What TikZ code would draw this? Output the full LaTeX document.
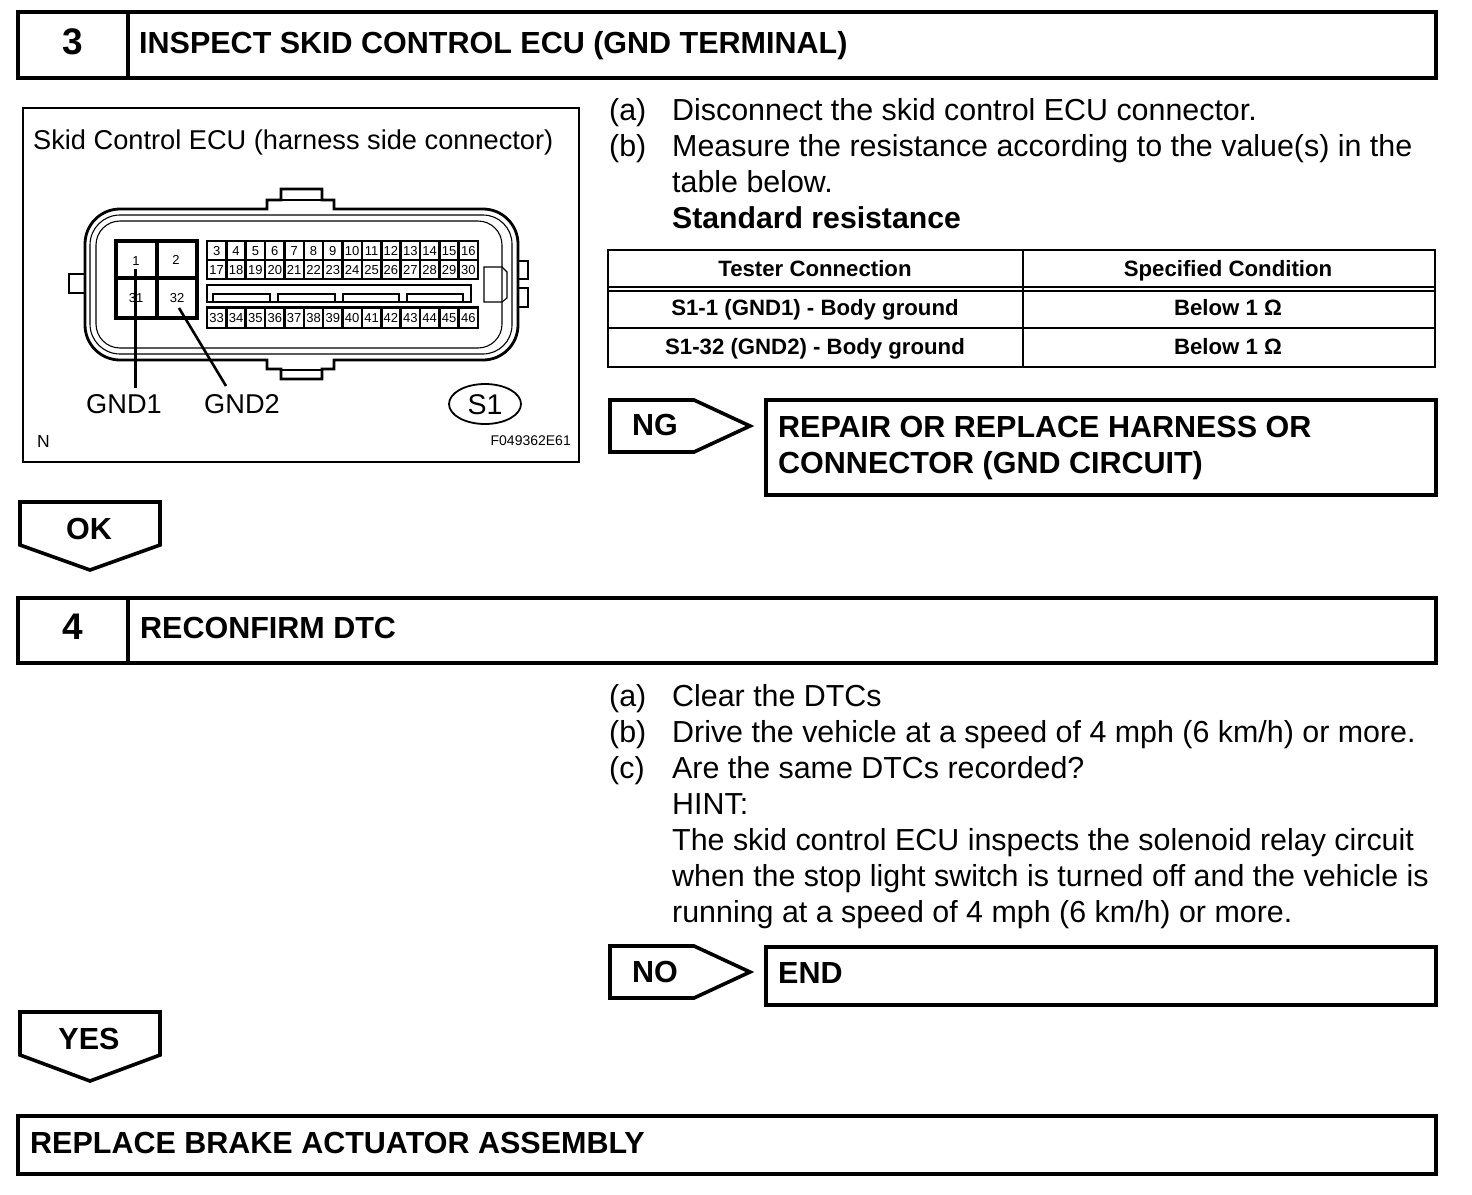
\documentclass[tikz,border=0pt]{standalone}
\usepackage{fontspec}
\usetikzlibrary{shapes.geometric}
\setmainfont{Liberation Sans}
\tikzset{
 heavy/.style={draw=black,line width=3.6pt,line join=miter},
 frame/.style={draw=black,line width=2.6pt},
 thinl/.style={draw=black,line width=1.1pt},
 mid/.style={draw=black,line width=2pt},
 cellg/.style={draw=black,line width=2.6pt},
 body/.style={anchor=base west,inner sep=0pt,font=\fontsize{30.4}{33}\selectfont},
 title/.style={anchor=base west,inner sep=0pt,font=\fontsize{30.5}{33}\selectfont\bfseries},
 num/.style={anchor=base,inner sep=0pt,font=\fontsize{37}{40}\selectfont\bfseries},
 tabt/.style={anchor=base,inner sep=0pt,font=\fontsize{22.2}{24}\selectfont\bfseries},
 lab/.style={anchor=base west,inner sep=0pt,font=\fontsize{27.2}{30}\selectfont},
 pin/.style={anchor=center,inner sep=0pt,text height=9.4pt,text depth=0pt,font=\fontsize{13}{14}\selectfont},
}
\begin{document}
\begin{tikzpicture}[x=1pt,y=-1pt]
\useasboundingbox (0,0) rectangle (1472,1194);
% step 3 header
\draw[heavy] (18,12) rectangle (1436,78) (128,12) -- (128,78);
\node[num] (n3) at (73,54) {3};
\node[title] (t3) at (139,53) {INSPECT SKID CONTROL ECU (GND TERMINAL)};
% figure frame
\draw[frame] (23,108) rectangle (579,462);
\node[lab] (figt) at (33,149) {Skid Control ECU (harness side connector)};
% housing
\draw[line width=2.8pt] (120,209) -- (267,209) -- (267,200) -- (281,200) -- (281,189) -- (322,189) -- (322,200) -- (334,200) -- (334,209) -- (483,209)
  arc[start angle=-90,end angle=0,radius=35] -- (518,325) arc[start angle=0,end angle=90,radius=35]
  -- (334,360) -- (334,369) -- (322,369) -- (322,379) -- (281,379) -- (281,369) -- (267,369) -- (267,360) -- (120,360)
  arc[start angle=90,end angle=180,radius=35] -- (85,244) arc[start angle=180,end angle=270,radius=35] -- cycle;
\draw[thinl] (120,215) -- (483,215) arc[start angle=-90,end angle=0,radius=29] -- (512,325) arc[start angle=0,end angle=90,radius=29] -- (120,354) arc[start angle=90,end angle=180,radius=30] -- (90,245) arc[start angle=180,end angle=270,radius=30] -- cycle;
\draw[thinl] (120,221) -- (478,221) arc[start angle=-90,end angle=0,radius=24] -- (502,324) arc[start angle=0,end angle=90,radius=24] -- (120,348) arc[start angle=90,end angle=180,radius=24] -- (96,245) arc[start angle=180,end angle=270,radius=24] -- cycle;
\draw[thinl] (281,200) -- (322,200) (281,370) -- (322,370);
% side tabs
\draw[cellg] (85,274) -- (69,274) -- (69,293) -- (85,293);
\draw[cellg] (518,261) -- (528,261) -- (528,279) -- (518,279);
\draw[cellg] (518,288) -- (528,288) -- (528,307) -- (518,307);
\draw[thinl] (484,267) -- (502,267) -- (507,272) -- (507,298) -- (502,302) -- (484,302) -- cycle;
% big cavity block
\draw[line width=3.4pt] (116,241) rectangle (197,318) (116,278) -- (197,278) (157,241) -- (157,318);
\node[pin] (p1) at (136,261) {1};
\node[pin] (p2) at (176,260) {2};
\node[pin] (p31) at (136,298) {31};
\node[pin] (p32) at (177,298) {32};
% pin rows
\draw[cellg] (207,241) rectangle (478,279) (207,260) -- (478,260) (207,307.5) rectangle (478,328);
\foreach \i in {1,...,13} {
  \draw[cellg] ({207+\i*19.36},241) -- ({207+\i*19.36},279);
  \draw[cellg] ({207+\i*19.36},307.5) -- ({207+\i*19.36},328);
}
\foreach \i [evaluate=\i as \a using int(\i+3), evaluate=\i as \b using int(\i+17), evaluate=\i as \c using int(\i+33)] in {0,...,13} {
  \node[pin] (pa\i) at ({216.7+\i*19.36},250.5) {\a};
  \node[pin] (pb\i) at ({216.7+\i*19.36},269.5) {\b};
  \node[pin] (pc\i) at ({216.7+\i*19.36},318) {\c};
}
% slot
\draw[cellg] (207,285) -- (471,285) -- (471,302) -- (207,302) -- cycle;
\draw[thinl] (213,302) -- (213,294) -- (270,294) -- (270,302) (278,302) -- (278,294) -- (335,294) -- (335,302) (343,302) -- (343,294) -- (399,294) -- (399,302) (407,302) -- (407,294) -- (463,294) -- (463,302);
% leaders
\node[lab] (gnd1) at (86,413) {GND1};
\node[lab] (gnd2) at (204,413) {GND2};
\coordinate (c1) at (135.5,269);
\coordinate (e1) at (135.5,388);
\coordinate (c2) at (179,308);
\coordinate (e2) at (226,386);
\draw[cellg] (c1) -- (e1);
\draw[cellg] (c2) -- (e2);
\node[draw=black,line width=1.8pt,ellipse,minimum width=72pt,minimum height=40pt,inner sep=0pt] (s1e) at (485,404) {};
\node[anchor=center,inner sep=0pt,font=\fontsize{28.5}{30}\selectfont] (s1) at (485,405) {S1};
\node[anchor=base west,inner sep=0pt,font=\fontsize{17.5}{20}\selectfont] (nn) at (37,447) {N};
\node[anchor=base east,inner sep=0pt,font=\fontsize{14}{14}\selectfont] (code) at (571,445) {F049362E61};
% step 3 text
\node[body] (a3) at (609,120.8) {(a)};
\node[body] (a3t) at (672,120.8) {Disconnect the skid control ECU connector.};
\node[body] (b3) at (609,156.8) {(b)};
\node[body] (b3t) at (672,156.8) {Measure the resistance according to the value(s) in the};
\node[body] (b3u) at (672,192.8) {table below.};
\node[body,font=\fontsize{30.2}{33}\selectfont\bfseries] (b3v) at (672,228.8) {Standard resistance};
% table
\draw[mid] (608,250) rectangle (1435,367) (608,328) -- (1435,328) (1023,250) -- (1023,367);
\draw[line width=1.4pt] (608,287) -- (1435,287) (608,291) -- (1435,291);
\node[tabt] (h1) at (815,276) {Tester Connection};
\node[tabt] (h2) at (1228,276) {Specified Condition};
\node[tabt] (r1) at (815,315) {S1-1 (GND1) - Body ground};
\node[tabt] (r1b) at (1228,315) {Below 1 Ω};
\node[tabt] (r2) at (815,354) {S1-32 (GND2) - Body ground};
\node[tabt] (r2b) at (1228,354) {Below 1 Ω};
% NG
\draw[heavy] (610,400) -- (694,400) -- (750,426) -- (694,452) -- (610,452) -- cycle;
\node[title] (ng) at (632,435.5) {NG};
\draw[heavy] (766,400) rectangle (1436,495);
\node[title] (rp1) at (778,437) {REPAIR OR REPLACE HARNESS OR};
\node[title] (rp2) at (778,473) {CONNECTOR (GND CIRCUIT)};
% OK
\draw[heavy] (20,502) -- (160,502) -- (160,545) -- (90,570) -- (20,545) -- cycle;
\node[title,anchor=base] (ok) at (89,539) {OK};
% step 4 header
\draw[heavy] (18,598) rectangle (1436,663) (128,598) -- (128,663);
\node[num] (n4) at (73,639) {4};
\node[title] (t4) at (140,638) {RECONFIRM DTC};
% step 4 text
\node[body] (a4) at (609,706.8) {(a)};
\node[body] (a4t) at (672,706.8) {Clear the DTCs};
\node[body] (b4) at (609,742.8) {(b)};
\node[body] (b4t) at (672,742.8) {Drive the vehicle at a speed of 4 mph (6 km/h) or more.};
\node[body] (c4) at (609,778.8) {(c)};
\node[body] (c4t) at (672,778.8) {Are the same DTCs recorded?};
\node[body] (h4) at (672,814.8) {HINT:};
\node[body] (l1) at (672,850.8) {The skid control ECU inspects the solenoid relay circuit};
\node[body] (l2) at (672,886.8) {when the stop light switch is turned off and the vehicle is};
\node[body] (l3) at (672,922.8) {running at a speed of 4 mph (6 km/h) or more.};
% NO
\draw[heavy] (610,946) -- (694,946) -- (750,972) -- (694,998) -- (610,998) -- cycle;
\node[title] (no) at (632,982.5) {NO};
\draw[heavy] (766,947) rectangle (1436,1005);
\node[title] (en) at (778,983.5) {END};
% YES
\draw[heavy] (20,1012) -- (160,1012) -- (160,1055) -- (90,1081) -- (20,1055) -- cycle;
\node[title,anchor=base] (yes) at (89,1049) {YES};
% final
\draw[heavy] (18,1116) rectangle (1436,1174);
\node[title] (rep) at (30,1153) {REPLACE BRAKE ACTUATOR ASSEMBLY};
\end{tikzpicture}
\end{document}
